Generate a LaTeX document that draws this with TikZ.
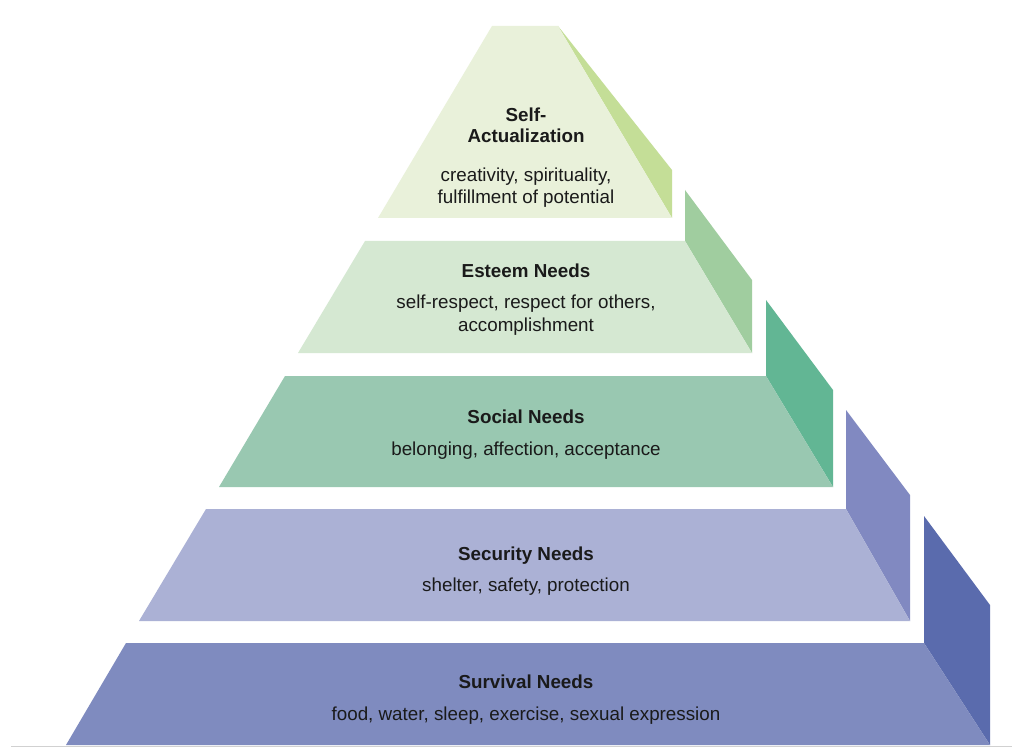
\documentclass[tikz,border=0pt]{standalone}
\usepackage{fontspec}
\setmainfont{Liberation Sans}
\definecolor{fA}{HTML}{E9F1DA}
\definecolor{sA}{HTML}{C4DE97}
\definecolor{fB}{HTML}{D5E8D2}
\definecolor{sB}{HTML}{A0CD9F}
\definecolor{fC}{HTML}{99C8B1}
\definecolor{sC}{HTML}{62B694}
\definecolor{fD}{HTML}{ABB1D5}
\definecolor{sD}{HTML}{8189C1}
\definecolor{fE}{HTML}{7F8BBF}
\definecolor{sE}{HTML}{5A6BAD}
\definecolor{txt}{HTML}{1A1A1A}
\begin{document}
\begin{tikzpicture}[x=1pt,y=-1pt,
  ttl/.style={anchor=base,inner sep=0pt,font=\fontsize{18.8}{21}\selectfont\bfseries,text=txt},
  dsc/.style={anchor=base,inner sep=0pt,font=\fontsize{18.8}{21}\selectfont,text=txt}]
\useasboundingbox (0,0) rectangle (1012,754);
\fill[white] (0,0) rectangle (1012,754);
% base line
\draw[draw=black!18,line width=1pt] (11,746) -- (1012,746);
% level 1
\fill[sA] (558,26) -- (672,170) -- (672,218) -- cycle;
\fill[fA] (492,26) -- (558,26) -- (672,218) -- (378,218) -- cycle;
% level 2
\fill[sB] (685,190) -- (752,280) -- (752,353) -- (685,241) -- cycle;
\fill[fB] (365,241) -- (685,241) -- (752,353) -- (298,353) -- cycle;
% level 3
\fill[sC] (766,300) -- (833,390) -- (833,487) -- (766,376) -- cycle;
\fill[fC] (285,376) -- (766,376) -- (833,487) -- (219,487) -- cycle;
% level 4
\fill[sD] (846,410) -- (910,495) -- (910,621) -- (846,509) -- cycle;
\fill[fD] (206,509) -- (846,509) -- (910,621) -- (139,621) -- cycle;
% level 5
\fill[sE] (924,516) -- (990,605) -- (990,745) -- (924,643) -- cycle;
\fill[fE] (126,643) -- (924,643) -- (990,745) -- (66,745) -- cycle;
% texts
\node[ttl] (t1a) at (526,122) {Self-};
\node[ttl] (t1b) at (526,143) {Actualization};
\node[dsc] (d1a) at (526,182) {creativity, spirituality,};
\node[dsc] (d1b) at (526,204) {fulfillment of potential};
\node[ttl] (t2) at (526,277) {Esteem Needs};
\node[dsc] (d2a) at (526,308) {self-respect, respect for others,};
\node[dsc] (d2b) at (526,331) {accomplishment};
\node[ttl] (t3) at (526,423) {Social Needs};
\node[dsc] (d3) at (526,455) {belonging, affection, acceptance};
\node[ttl] (t4) at (526,560) {Security Needs};
\node[dsc] (d4) at (526,591) {shelter, safety, protection};
\node[ttl] (t5) at (526,688) {Survival Needs};
\node[dsc] (d5) at (526,720) {food, water, sleep, exercise, sexual expression};
\end{tikzpicture}
\end{document}
